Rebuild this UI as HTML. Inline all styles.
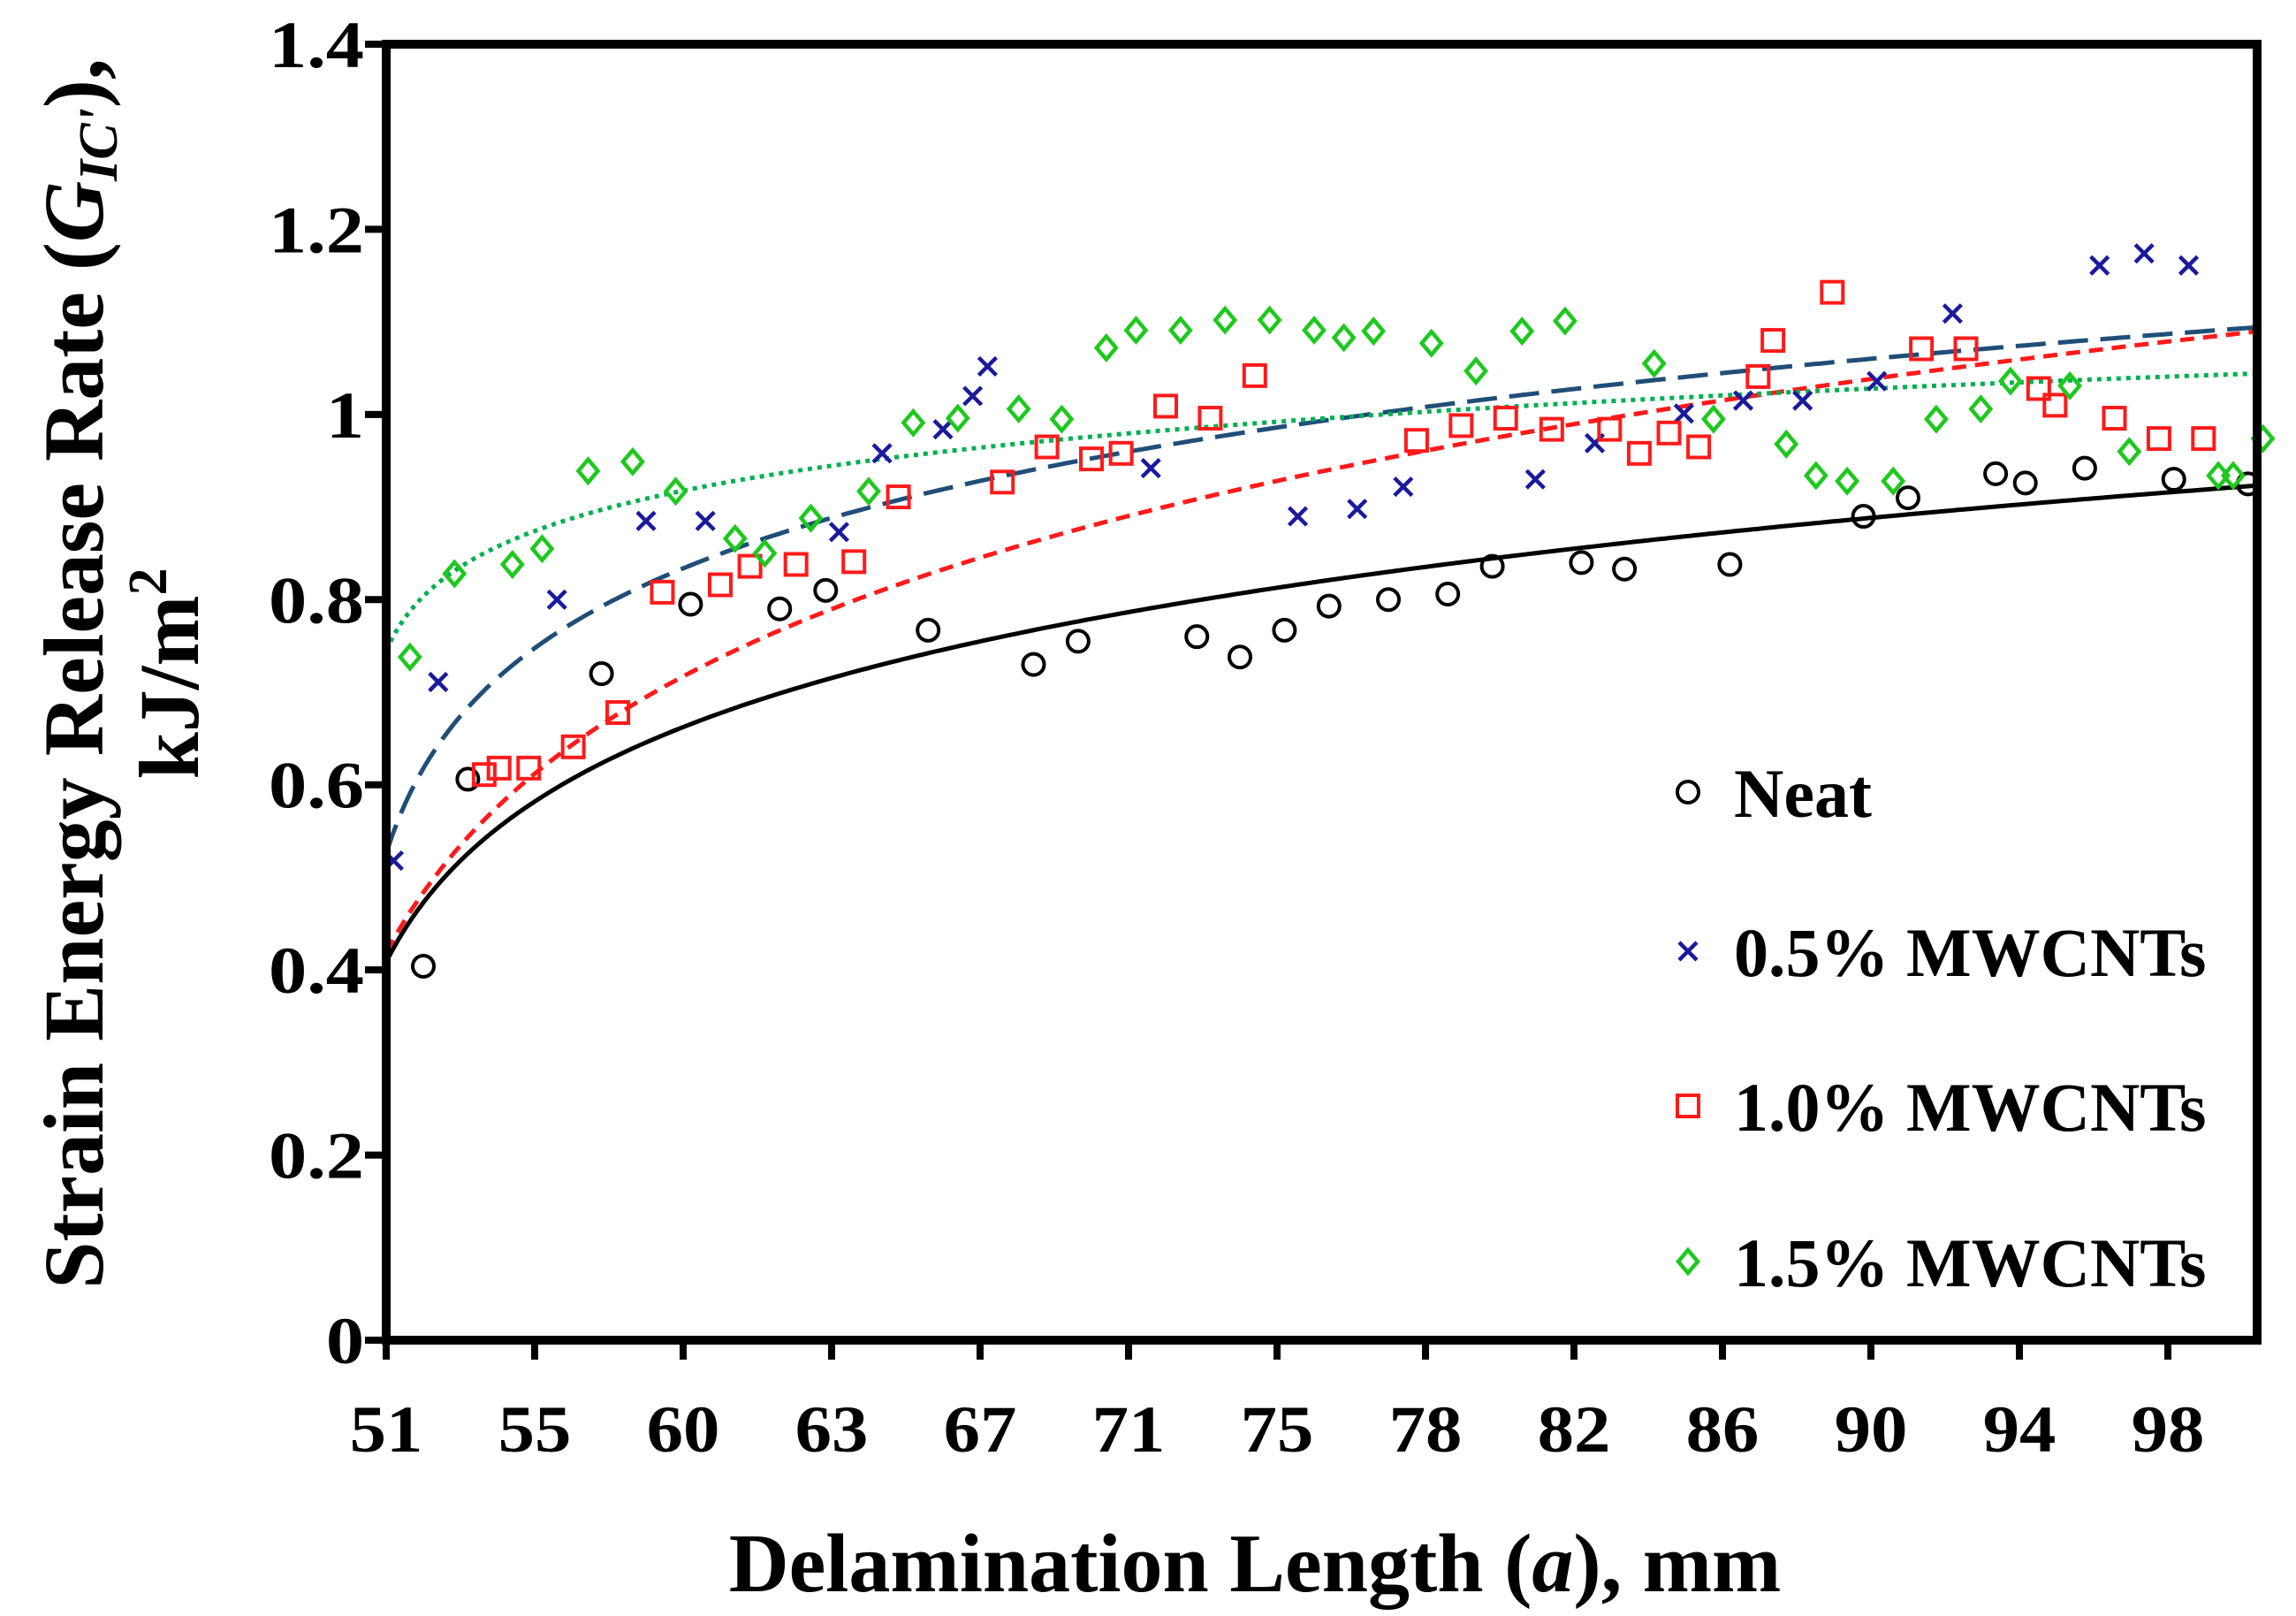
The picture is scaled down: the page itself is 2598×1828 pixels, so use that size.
<!DOCTYPE html>
<html><head><meta charset="utf-8"><style>
html,body{margin:0;padding:0;background:#fff;}
svg{display:block;font-family:"Liberation Serif","Times New Roman",serif;font-weight:bold;}
</style></head><body>
<svg id="chart" width="2598" height="1828" viewBox="0 0 2598 1828">
<rect x="0" y="0" width="2598" height="1828" fill="#fff"/>
<g id="marks"></g>
<g id="axes"></g>
</svg>
<script>
// x positions are in category-tick units (0 = "51", 1 = "55", ...)
const xTickLabels = ["51","55","60","63","67","71","75","78","82","86","90","94","98"];
const yTickLabels = ["0","0.2","0.4","0.6","0.8","1","1.2","1.4"];
const yTickValues = [0,0.2,0.4,0.6,0.8,1.0,1.2,1.4];

const neatX = [0.25,0.55,1.45,2.05,2.65,2.96,3.65,4.36,4.66,5.46,5.75,6.05,6.35,6.75,7.15,7.45,8.05,8.34,9.05,9.95,10.25,10.84,11.04,11.44,12.04,12.54];
const neatY = [0.404,0.606,0.72,0.795,0.79,0.81,0.767,0.73,0.755,0.76,0.738,0.767,0.793,0.80,0.806,0.836,0.84,0.833,0.838,0.89,0.91,0.936,0.926,0.942,0.93,0.925];

const cnt05X = [0.05,0.35,1.15,1.75,2.15,3.05,3.34,3.75,3.95,4.05,5.15,6.14,6.54,6.85,7.74,8.14,8.74,9.14,9.54,10.04,10.55,11.54,11.84,12.14];
const cnt05Y = [0.518,0.711,0.80,0.885,0.885,0.873,0.958,0.984,1.02,1.052,0.942,0.89,0.898,0.922,0.93,0.969,1.001,1.015,1.015,1.036,1.109,1.161,1.174,1.161];

const cnt10X = [0.66,0.76,0.96,1.26,1.56,1.86,2.25,2.45,2.76,3.15,3.45,4.15,4.45,4.75,4.95,5.25,5.55,5.85,6.94,7.24,7.54,7.85,8.24,8.44,8.64,8.84,9.24,9.34,9.74,10.34,10.64,11.13,11.24,11.64,11.94,12.24];
const cnt10Y = [0.611,0.618,0.618,0.641,0.678,0.808,0.816,0.836,0.838,0.841,0.911,0.927,0.965,0.952,0.958,1.009,0.996,1.042,0.972,0.988,0.996,0.984,0.984,0.958,0.98,0.965,1.041,1.08,1.132,1.071,1.071,1.028,1.01,0.996,0.974,0.974];

const cnt15X = [0.16,0.46,0.85,1.05,1.36,1.66,1.95,2.35,2.55,2.86,3.25,3.55,3.85,4.26,4.55,4.85,5.05,5.35,5.65,5.95,6.25,6.45,6.65,7.04,7.34,7.65,7.94,8.54,8.94,9.43,9.63,9.84,10.15,10.44,10.74,10.94,11.34,11.74,12.34,12.44,12.64];
const cnt15Y = [0.738,0.828,0.838,0.855,0.939,0.949,0.917,0.866,0.85,0.888,0.917,0.991,0.996,1.006,0.995,1.072,1.091,1.091,1.102,1.102,1.091,1.083,1.09,1.077,1.047,1.09,1.101,1.055,0.995,0.968,0.934,0.928,0.928,0.995,1.006,1.036,1.031,0.96,0.934,0.934,0.974];

// log trendline parameters: y = a + b*ln(x + c)
const trendNeat = [0.518,0.1575,0.5];
const trend05 = [0.708,0.151,0.3];
const trend10 = [0.472,0.238,0.8];
const trend15 = [0.861,0.0719,0.2];

const L=437,R=2554,T=50,B=1516,STEP=168,XMAX=(R-L)/STEP;
const xs=u=>L+u*STEP;
const ys=v=>B-(v/1.4)*(B-T);
const NS="http://www.w3.org/2000/svg";
const marks=document.getElementById('marks'), axes=document.getElementById('axes');
function mk(tag,attrs,parent){const e=document.createElementNS(NS,tag);for(const k in attrs)e.setAttribute(k,attrs[k]);parent.appendChild(e);return e;}

function trend(p,color,dash,name){
  let d="";
  for(let i=0;i<=300;i++){const u=XMAX*i/300;const v=p[0]+p[1]*Math.log(u+p[2]);d+=(i?"L":"M")+xs(u).toFixed(1)+","+ys(v).toFixed(1);}
  const e=mk('path',{d:d,fill:'none',stroke:color,'stroke-width':5,'stroke-dasharray':dash},marks);
  
  
}
trend(trendNeat,'#000','none','trendline-neat');
trend(trend05,'#1f4e79','34 14','trendline-0-5');
trend(trend10,'#ff1a1a','16 10','trendline-1-0');
trend(trend15,'#00b050','5 6','trendline-1-5');

function circle(cx,cy,g){return mk('circle',{cx:cx,cy:cy,r:12,fill:'none',stroke:'#000','stroke-width':4},g);}
function cross(cx,cy,g){return mk('path',{d:`M${cx-10},${cy-10}L${cx+10},${cy+10}M${cx-10},${cy+10}L${cx+10},${cy-10}`,stroke:'#1a1a9c','stroke-width':4.5,fill:'none'},g);}
function square(cx,cy,g){return mk('rect',{x:cx-12,y:cy-12,width:24,height:24,fill:'none',stroke:'#ff1a1a','stroke-width':4},g);}
function diamond(cx,cy,g){return mk('path',{d:`M${cx},${cy-13}L${cx+11},${cy}L${cx},${cy+13}L${cx-11},${cy}Z`,fill:'none',stroke:'#1ec81e','stroke-width':4.5},g);}

function series(X,Y,fn,name){
  const g=mk('g',{},marks);
  
  
  for(let i=0;i<X.length;i++){
    const e=fn(xs(X[i]),ys(Y[i]),g);
    
    
  }
}
series(neatX,neatY,circle,'neat');
series(cnt05X,cnt05Y,cross,'mwcnt-0-5');
series(cnt10X,cnt10Y,square,'mwcnt-1-0');
series(cnt15X,cnt15Y,diamond,'mwcnt-1-5');

// axes frame
const fr=mk('rect',{x:L,y:T,width:R-L,height:B-T,fill:'none',stroke:'#000','stroke-width':10},axes);


for(let i=0;i<yTickValues.length;i++){
  const y=ys(yTickValues[i]);
  const t=mk('line',{x1:413,x2:L,y1:y,y2:y,stroke:'#000','stroke-width':8},axes);
  
  
  const tx=mk('text',{x:0,y:0,'text-anchor':'end','font-size':72,transform:`translate(412,${y+26}) scale(1.2,1.05)`},axes);
  tx.textContent=yTickLabels[i];
  
  
}
for(let i=0;i<xTickLabels.length;i++){
  const x=xs(i);
  const t=mk('line',{x1:x,x2:x,y1:B,y2:1538,stroke:'#000','stroke-width':8},axes);
  
  
  const tx=mk('text',{x:0,y:0,'text-anchor':'middle','font-size':72,transform:`translate(${x},1642) scale(1.15,1.05)`},axes);
  tx.textContent=xTickLabels[i];
  
  
}
</script>
<svg style="position:absolute;left:0;top:0" width="2598" height="1828">
<g font-family="Liberation Serif, serif" font-weight="bold">
<text x="1420" y="1800" text-anchor="middle" font-size="94">Delamination Length (<tspan font-style="italic">a</tspan>), mm</text>
<g transform="translate(116,762) rotate(-90)">
<text x="0" y="0" text-anchor="middle" font-size="96">Strain Energy Release Rate (<tspan font-style="italic">G</tspan><tspan font-style="italic" font-size="62" dy="16">IC'</tspan><tspan dy="-16">),</tspan></text>
<text x="0" y="108" text-anchor="middle" font-size="96">kJ/m<tspan font-size="62" dy="-36">2</tspan></text>
</g>
<g>
<circle cx="1910" cy="896" r="12" fill="none" stroke="#000" stroke-width="4"/>
<text x="1962" y="924" font-size="78">Neat</text>
<path d="M1900,1066L1920,1086M1900,1086L1920,1066" stroke="#1a1a9c" stroke-width="4.5"/>
<text x="1962" y="1104" font-size="78">0.5% MWCNTs</text>
<rect x="1898" y="1239" width="24" height="24" fill="none" stroke="#ff1a1a" stroke-width="4"/>
<text x="1962" y="1279" font-size="78">1.0% MWCNTs</text>
<path d="M1910,1414L1921,1427L1910,1440L1899,1427Z" fill="none" stroke="#1ec81e" stroke-width="4.5"/>
<text x="1962" y="1455" font-size="78">1.5% MWCNTs</text>
</g>
</g>
</svg>
</body></html>
